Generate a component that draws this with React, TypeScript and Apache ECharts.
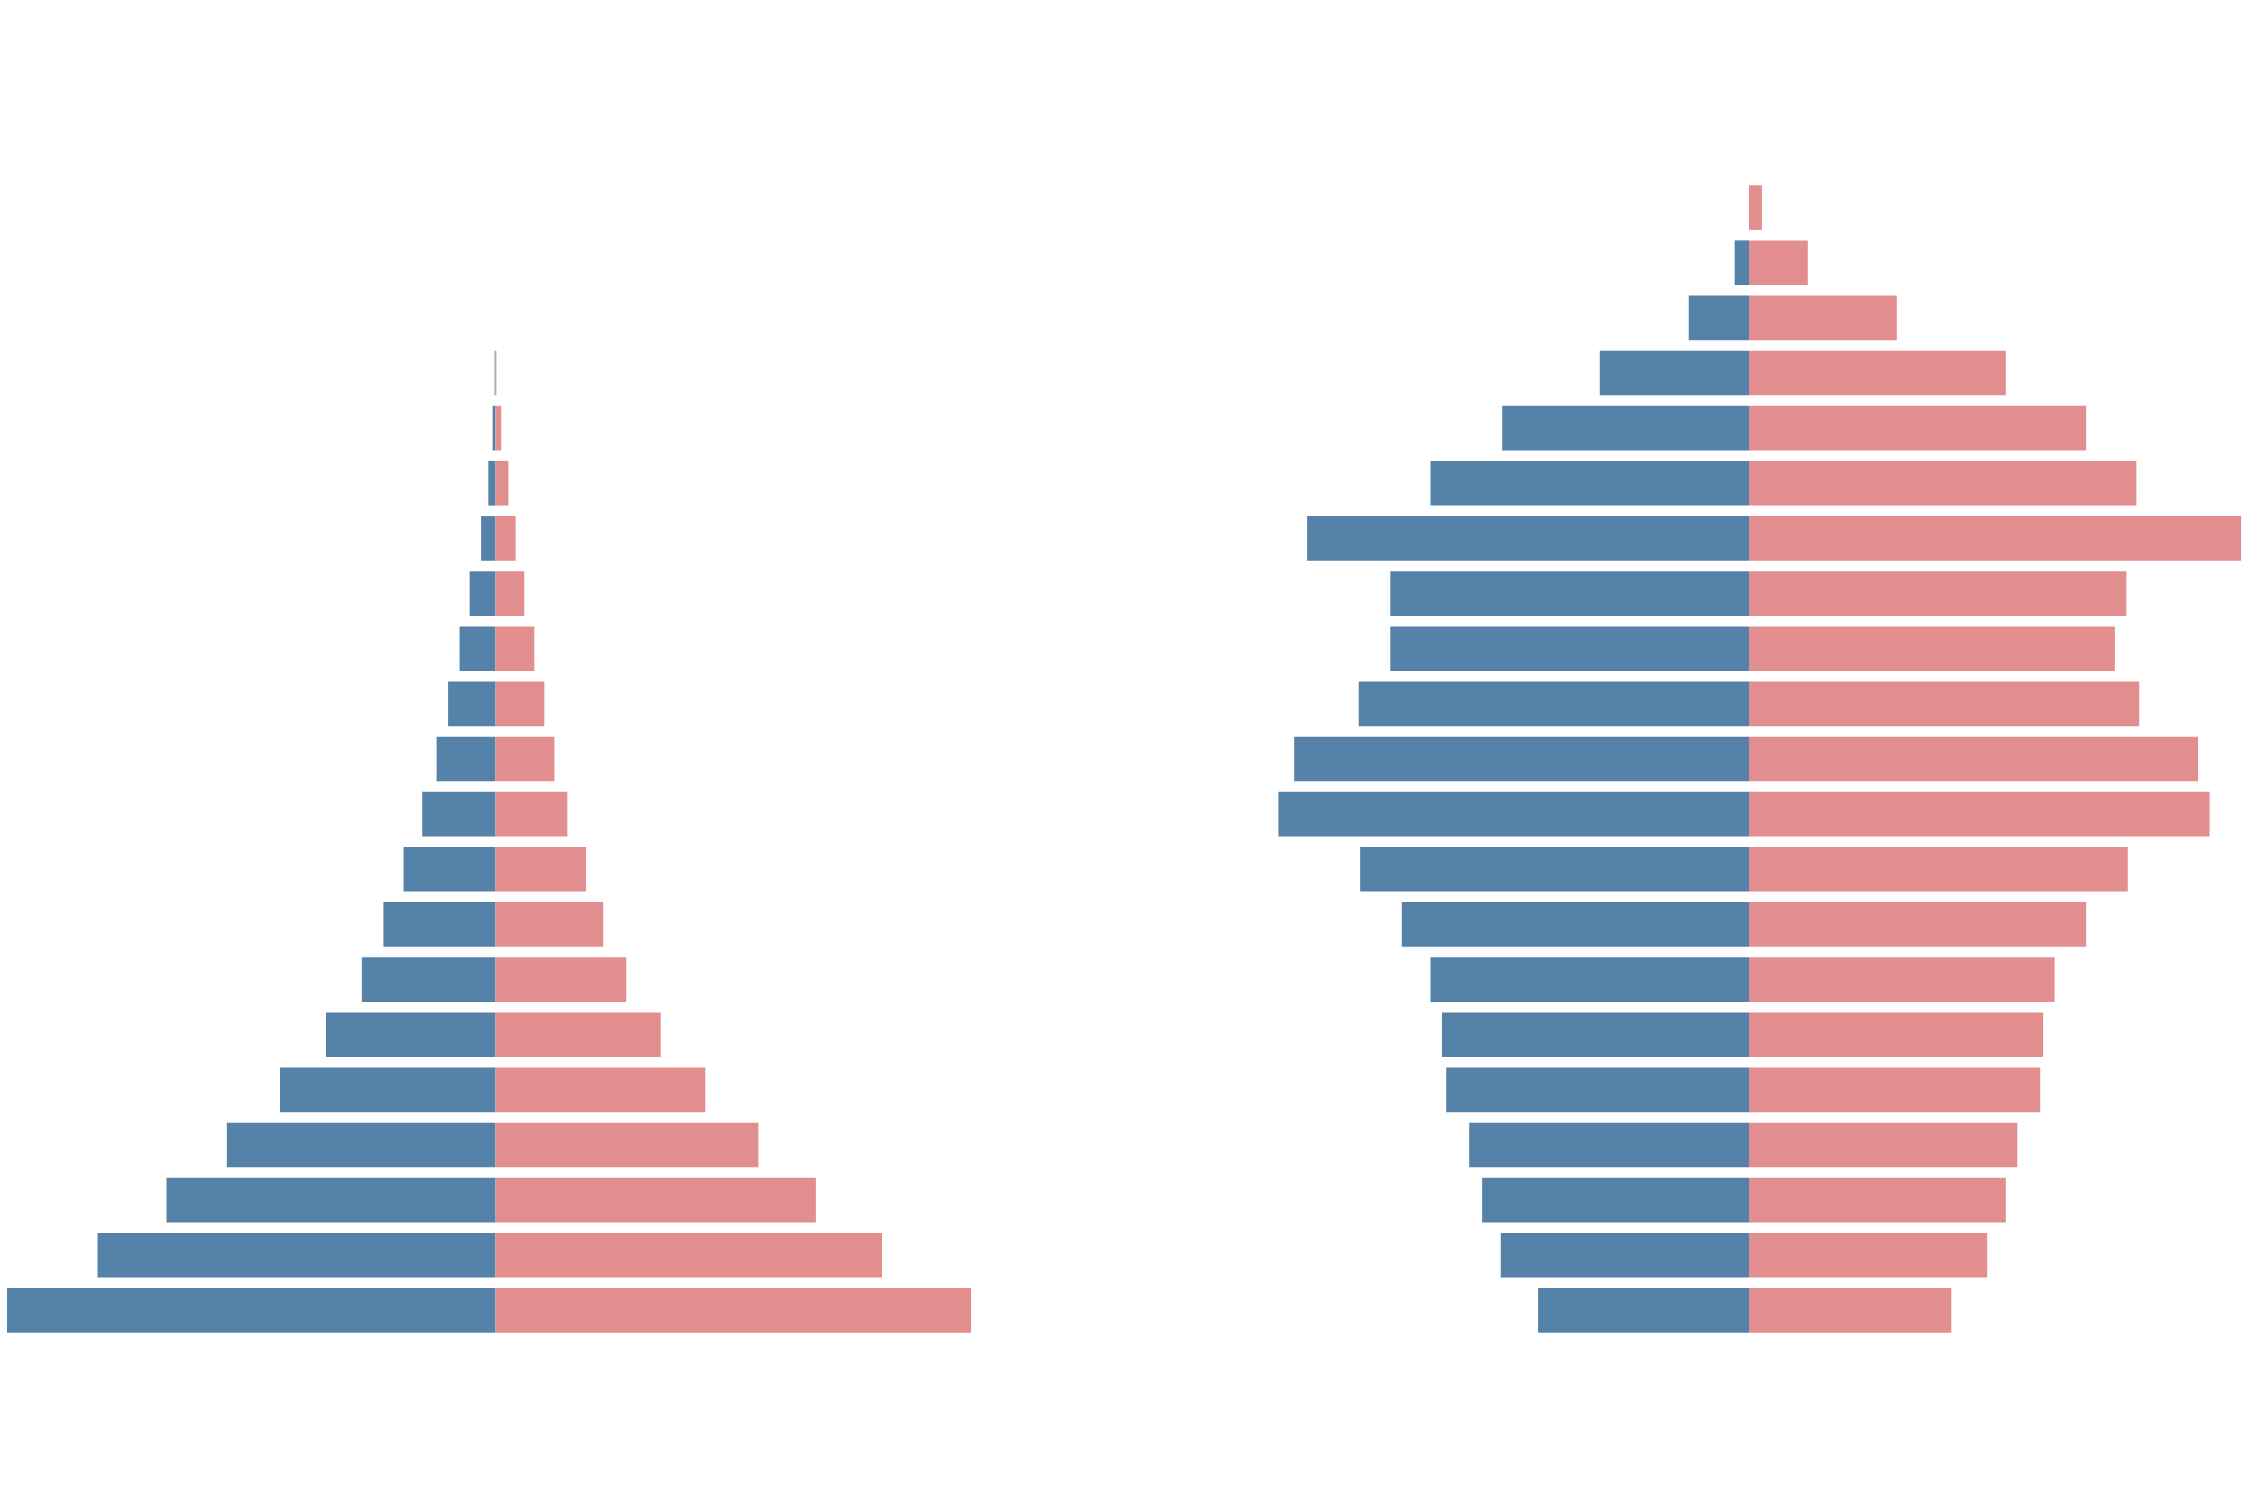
import { useEffect, useRef } from 'react'
import * as echarts from 'echarts'

// age bands, bottom to top
const AGE_GROUPS = Array.from({ length: 21 }, (_, i) => `${i * 5}`)

// left pyramid (bottom to top)
const LEFT_MALE = [340, 277, 229, 187, 150, 118, 93, 78, 64, 51, 41, 33, 25, 18, 10, 5, 2, 0.6, 0, 0, 0]
const LEFT_FEMALE = [331, 269, 223, 183, 146, 115, 91, 75, 63, 50, 41, 34, 27, 20, 14, 9, 4, 0.6, 0, 0, 0]

// right pyramid (bottom to top)
const RIGHT_MALE = [147, 173, 186, 195, 211, 214, 222, 242, 271, 328, 317, 272, 250, 250, 308, 222, 172, 104, 42, 10, 0]
const RIGHT_FEMALE = [141, 166, 179, 187, 203, 205, 213, 235, 264, 321, 313, 272, 255, 263, 343, 270, 235, 179, 103, 41, 9]

const BLUE = '#5482a8'
const PINK = '#e28e8e'

export default function App() {
  const chartRef = useRef<HTMLDivElement>(null)

  useEffect(() => {
    if (!chartRef.current) return
    document.body.style.margin = '0'
    const chart = echarts.init(chartRef.current, null, { renderer: 'svg' })

    const hiddenX = (range: number) => ({
      type: 'value' as const,
      min: -range,
      max: range,
      show: false,
    })
    const hiddenY = (gridIndex: number) => ({
      type: 'category' as const,
      gridIndex,
      data: AGE_GROUPS,
      show: false,
    })
    const bar = (idx: number, stack: string, color: string, data: number[]) => ({
      type: 'bar' as const,
      xAxisIndex: idx,
      yAxisIndex: idx,
      stack,
      barWidth: '81%',
      itemStyle: { color },
      data,
    })

    chart.setOption({
      animation: false,
      grid: [
        { left: 7, width: 977, top: 180, height: 1158 },
        { left: 1254, width: 990, top: 180, height: 1158 },
      ],
      xAxis: [
        { ...hiddenX(340), gridIndex: 0 },
        { ...hiddenX(345), gridIndex: 1 },
      ],
      yAxis: [hiddenY(0), hiddenY(1)],
      series: [
        bar(0, 'left', BLUE, LEFT_MALE.map((v) => -v)),
        bar(0, 'left', PINK, LEFT_FEMALE),
        bar(1, 'right', BLUE, RIGHT_MALE.map((v) => -v)),
        bar(1, 'right', PINK, RIGHT_FEMALE),
      ],
    })

    const handleResize = () => chart.resize()
    window.addEventListener('resize', handleResize)
    return () => {
      window.removeEventListener('resize', handleResize)
      chart.dispose()
    }
  }, [])

  return <div ref={chartRef} style={{ width: '2246px', height: '1496px' }} />
}
